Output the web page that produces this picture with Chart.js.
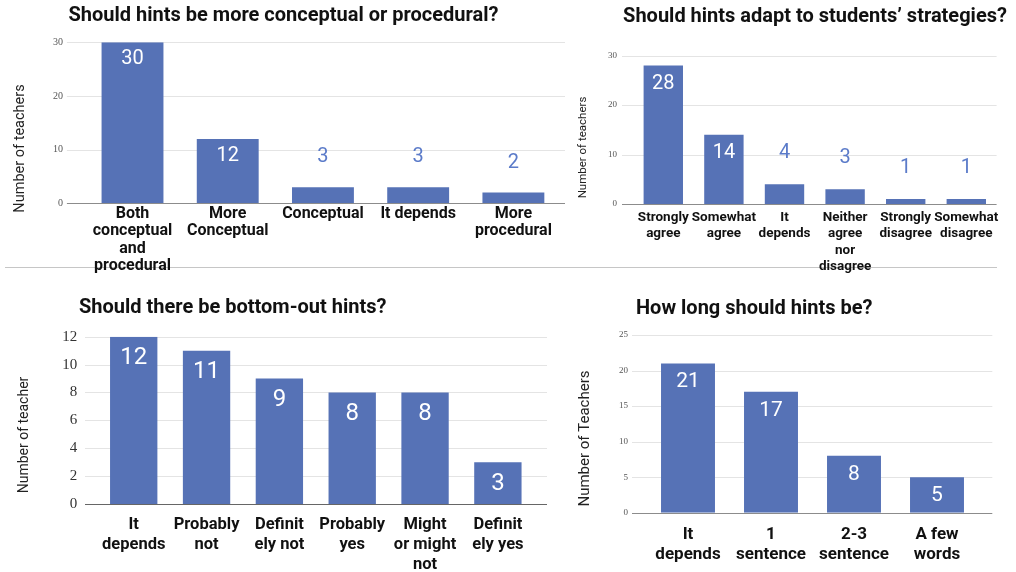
<!DOCTYPE html>
<html>
<head>
<meta charset="utf-8">
<script src="https://cdn.jsdelivr.net/npm/chart.js@4/dist/chart.umd.min.js"></script>
<style>
  html, body { margin: 0; padding: 0; background: #fff; }
  body { width: 1016px; height: 572px; position: relative; overflow: hidden; }
  canvas { position: absolute; }
  .rule { position: absolute; left: 5px; top: 267px; width: 992px; height: 1px; background: #c6c6c6; }
</style>
</head>
<body>
<div class="rule"></div>
<canvas id="conceptual" width="567" height="280" style="left:0;top:0"></canvas>
<canvas id="adapt" width="441" height="280" style="left:575px;top:0"></canvas>
<canvas id="bottomOut" width="560" height="292" style="left:0;top:280px"></canvas>
<canvas id="length" width="441" height="292" style="left:575px;top:280px"></canvas>
<script>
// Survey: teacher opinions about hints
const conceptualLabels = [["Both", "conceptual", "and", "procedural"], ["More", "Conceptual"], "Conceptual", "It depends", ["More", "procedural"]];
const conceptualCounts = [30, 12, 3, 3, 2];

const adaptLabels = [["Strongly", "agree"], ["Somewhat", "agree"], ["It", "depends"], ["Neither", "agree", "nor", "disagree"], ["Strongly", "disagree"], ["Somewhat", "disagree"]];
const adaptCounts = [28, 14, 4, 3, 1, 1];

const bottomOutLabels = [["It", "depends"], ["Probably", "not"], ["Definit", "ely not"], ["Probably", "yes"], ["Might", "or might", "not"], ["Definit", "ely yes"]];
const bottomOutCounts = [12, 11, 9, 8, 8, 3];

const lengthLabels = [["It", "depends"], ["1", "sentence"], ["2-3", "sentence"], ["A few", "words"]];
const lengthCounts = [21, 17, 8, 5];

const conceptualAxis = { max: 30, step: 10 };
const adaptAxis = { max: 30, step: 10 };
const bottomOutAxis = { max: 12, step: 2 };
const lengthAxis = { max: 25, step: 5 };

const BAR = '#5672b6';
const LABEL_OUT = '#5b7bc9';

// Grid lines, value labels and headings drawn around the bars
const panelDecor = {
  id: 'panelDecor',
  beforeDatasetsDraw(chart, args, o) {
    const { ctx, chartArea: a, scales: { y } } = chart;
    ctx.save();
    ctx.lineWidth = 1;
    y.ticks.forEach(t => {
      if (t.value === 0) return;
      const py = Math.round(y.getPixelForValue(t.value)) + 0.5;
      ctx.strokeStyle = o.gridColor;
      ctx.beginPath();
      ctx.moveTo(a.left - o.gridExt[0], py);
      ctx.lineTo(a.right + o.gridExt[1], py);
      ctx.stroke();
    });
    ctx.restore();
  },
  afterDatasetsDraw(chart, args, o) {
    const { ctx, chartArea: a, scales: { y } } = chart;
    ctx.save();
    // zero line
    const py = Math.round(y.getPixelForValue(0)) + 0.5;
    ctx.strokeStyle = o.baseColor;
    ctx.lineWidth = 1;
    ctx.beginPath();
    ctx.moveTo(a.left - o.gridExt[0], py);
    ctx.lineTo(a.right + o.gridExt[1], py);
    ctx.stroke();

    // value labels: inside the bar when it is tall enough, above it otherwise
    const values = chart.data.datasets[0].data;
    ctx.font = o.valueSize + 'px Roboto';
    ctx.textAlign = 'center';
    ctx.textBaseline = 'middle';
    chart.getDatasetMeta(0).data.forEach((bar, i) => {
      const inside = (bar.base - bar.y) > 30;
      ctx.fillStyle = inside ? '#ffffff' : LABEL_OUT;
      ctx.fillText(String(values[i]), bar.x, inside ? bar.y + o.insideOffset : bar.y - o.outsideOffset);
    });

    // heading
    ctx.fillStyle = '#111';
    ctx.font = 'bold ' + o.title.size + 'px Roboto';
    ctx.textAlign = o.title.align;
    ctx.fillText(o.title.text, o.title.x, o.title.y);

    // vertical axis caption
    ctx.translate(o.yTitle.x, o.yTitle.y);
    ctx.rotate(-Math.PI / 2);
    ctx.font = o.yTitle.size + 'px Roboto';
    ctx.fillStyle = '#222';
    ctx.textAlign = 'center';
    ctx.fillText(o.yTitle.text, 0, 0);
    ctx.restore();
  }
};

function barPanel(id, labels, counts, axis, c) {
  new Chart(document.getElementById(id), {
    type: 'bar',
    data: {
      labels: labels,
      datasets: [{
        data: counts,
        backgroundColor: BAR,
        borderWidth: 0,
        categoryPercentage: 1,
        barPercentage: 0.65
      }]
    },
    options: {
      responsive: false,
      animation: false,
      layout: { padding: c.pad },
      plugins: {
        legend: { display: false },
        tooltip: { enabled: false },
        panelDecor: c.decor
      },
      scales: {
        x: {
          grid: { display: false, drawTicks: false },
          border: { display: false },
          ticks: {
            autoSkip: false,
            maxRotation: 0,
            minRotation: 0,
            padding: c.xPad,
            color: '#111',
            font: { family: 'Roboto', weight: 'bold', size: c.xSize, lineHeight: c.xLine }
          },
          afterFit: s => { s.height = c.xHeight; }
        },
        y: {
          min: 0,
          max: axis.max,
          grid: { display: false, drawTicks: false },
          border: { display: false },
          ticks: {
            stepSize: axis.step,
            padding: c.tickPad,
            color: c.tickColor,
            font: { family: 'Liberation Serif', size: c.tickSize }
          },
          afterFit: s => { s.width = c.yWidth; }
        }
      }
    },
    plugins: [panelDecor]
  });
}

barPanel('conceptual', conceptualLabels, conceptualCounts, conceptualAxis, {
  pad: { left: 0, top: 42.3, right: 6, bottom: 0 },
  yWidth: 84.9, xHeight: 76.7,
  xSize: 16, xLine: 1.1, xPad: 1.5,
  tickSize: 10, tickPad: 22, tickColor: '#555',
  decor: {
    gridColor: '#e4e4e4', baseColor: '#8c8c8c', gridExt: [18, 4],
    valueSize: 20, insideOffset: 16.7, outsideOffset: 30,
    title: { text: 'Should hints be more conceptual or procedural?', x: 283.5, y: 16, align: 'center', size: 20 },
    yTitle: { text: 'Number of teachers', x: 20, y: 148.5, size: 14.5 }
  }
});

barPanel('adapt', adaptLabels, adaptCounts, adaptAxis, {
  pad: { left: 0, top: 55.7, right: 19.4, bottom: 0 },
  yWidth: 58, xHeight: 76,
  xSize: 13.5, xLine: 1.19, xPad: 6,
  tickSize: 9, tickPad: 16, tickColor: '#555',
  decor: {
    gridColor: '#e4e4e4', baseColor: '#8c8c8c', gridExt: [11, 0],
    valueSize: 20, insideOffset: 18.5, outsideOffset: 31,
    title: { text: 'Should hints adapt to students\u2019 strategies?', x: 240, y: 16.7, align: 'center', size: 20 },
    yTitle: { text: 'Number of teachers', x: 8, y: 147.5, size: 11.5 }
  }
});

barPanel('bottomOut', bottomOutLabels, bottomOutCounts, bottomOutAxis, {
  pad: { left: 0, top: 56.7, right: 25.7, bottom: 0 },
  yWidth: 97.3, xHeight: 68,
  xSize: 16.5, xLine: 1.21, xPad: 10.5,
  tickSize: 15, tickPad: 20, tickColor: '#333',
  decor: {
    gridColor: '#e4e4e4', baseColor: '#666', gridExt: [12.3, 12.7],
    valueSize: 24, insideOffset: 21.5, outsideOffset: 30,
    title: { text: 'Should there be bottom-out hints?', x: 79, y: 28, align: 'left', size: 20 },
    yTitle: { text: 'Number of teacher', x: 24, y: 155, size: 14 }
  }
});

barPanel('length', lengthLabels, lengthCounts, lengthAxis, {
  pad: { left: 0, top: 55, right: 37.5, bottom: 0 },
  yWidth: 71.5, xHeight: 59.3,
  xSize: 17, xLine: 1.18, xPad: 12,
  tickSize: 9, tickPad: 18.5, tickColor: '#555',
  decor: {
    gridColor: '#e4e4e4', baseColor: '#8c8c8c', gridExt: [14.5, 13.8],
    valueSize: 21, insideOffset: 18.5, outsideOffset: 30,
    title: { text: 'How long should hints be?', x: 61, y: 29, align: 'left', size: 20 },
    yTitle: { text: 'Number of Teachers', x: 10, y: 158.5, size: 15 }
  }
});
</script>
</body>
</html>
